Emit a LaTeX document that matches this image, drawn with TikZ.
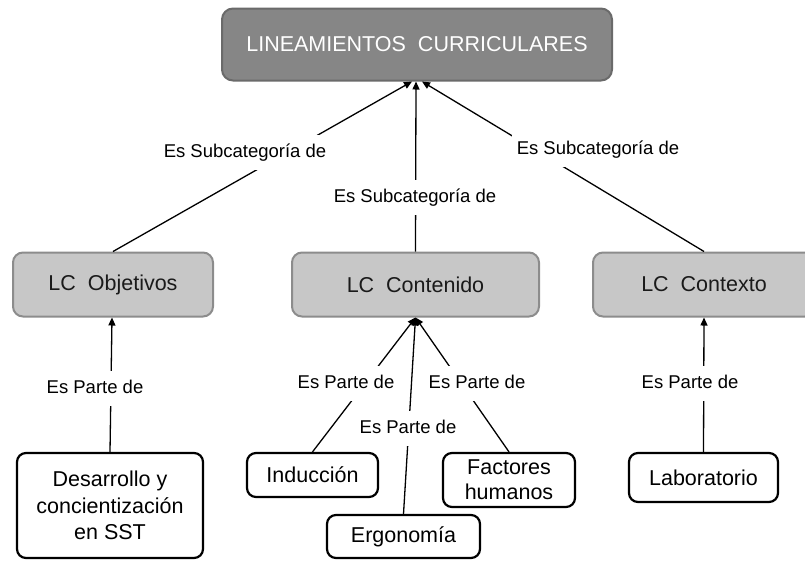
\documentclass[tikz,border=0pt]{standalone}
\usepackage{fontspec}
\setmainfont{Liberation Sans}
\usetikzlibrary{arrows.meta}
\definecolor{topfill}{HTML}{868686}
\definecolor{topdraw}{HTML}{6A6A6A}
\definecolor{midfill}{HTML}{C7C7C7}
\definecolor{middraw}{HTML}{8C8C8C}
\definecolor{midtext}{HTML}{1A1A1A}
\begin{document}
\begin{tikzpicture}[x=1pt,y=-1pt,
  topbox/.style={draw=topdraw, fill=topfill, line width=2pt, rounded corners=11pt,
    minimum width=390pt, minimum height=72pt, inner sep=0pt, text=white,
    font=\fontsize{21.5}{26}\selectfont},
  midbox/.style={draw=middraw, fill=midfill, line width=2pt, rounded corners=10pt,
    minimum height=64pt, inner sep=0pt, text=midtext,
    font=\fontsize{21.5}{26}\selectfont},
  leafbox/.style={draw=black, fill=white, line width=2.2pt, rounded corners=9pt,
    align=center, inner sep=0pt, font=\fontsize{21.5}{26.5}\selectfont},
  rel/.style={fill=white, inner xsep=5pt, inner ysep=8.5pt, text height=14pt,
    text depth=4pt, font=\fontsize{18.5}{22}\selectfont},
  conn/.style={line width=1.3pt, -{Triangle[length=8pt,width=7pt]}}]
\clip (0,0) rectangle (805,560);
% concepts
\node[topbox] (top) at (417,44.5) {LINEAMIENTOS\ \ CURRICULARES};
\node[midbox, minimum width=200pt] (obj) at (113,284.5) {LC\ \ Objetivos};
\node[midbox, minimum width=247pt] (cont) at (415.5,284.5) {LC\ \ Contenido};
\node[midbox, minimum width=222pt] (ctx) at (704,284.5) {LC\ \ Contexto};
\node[leafbox, minimum width=186pt, minimum height=105pt] (des) at (110,505.5)
  {Desarrollo y\\concientización\\en SST};
\node[leafbox, minimum width=131pt, minimum height=44pt] (ind) at (312.5,475) {Inducción};
\node[leafbox, minimum width=153pt, minimum height=43pt] (erg) at (403.5,536.5) {Ergonomía};
\node[leafbox, minimum width=132pt, minimum height=54pt] (fac) at (509,480)
  {Factores\\[-1.5pt]humanos};
\node[leafbox, minimum width=149pt, minimum height=49pt] (lab) at (703.5,477.5) {Laboratorio};
% connectors
\draw[conn] (obj.north) -- ([xshift=-5pt]top.south);
\draw[conn] (cont.north) -- ([xshift=-1pt]top.south);
\draw[conn] (ctx.north) -- ([xshift=5pt]top.south);
\draw[conn] (des.north) -- ([xshift=-1pt]obj.south);
\draw[conn] (ind.north) -- (cont.south);
\draw[conn] (erg.north) -- (cont.south);
\draw[conn] (fac.north) -- (cont.south);
\draw[conn] (lab.north) -- (ctx.south);
% linking phrases
\node[rel] (l1) at (245,152) {Es Subcategoría de};
\node[rel] (l2) at (415,197) {Es Subcategoría de};
\node[rel] (l3) at (598,149) {Es Subcategoría de};
\node[rel] (l4) at (95,388) {Es Parte de};
\node[rel] (l5) at (346,383) {Es Parte de};
\node[rel] (l6) at (408,428) {Es Parte de};
\node[rel] (l7) at (477,383) {Es Parte de};
\node[rel] (l8) at (690,383) {Es Parte de};
\end{tikzpicture}
\end{document}
